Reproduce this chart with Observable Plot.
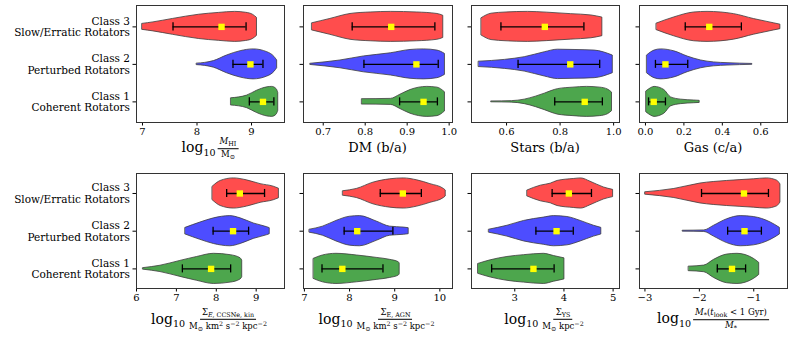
<!DOCTYPE html>
<html><head><meta charset="utf-8">
<script src="https://cdn.jsdelivr.net/npm/d3@7"></script>
<script src="https://cdn.jsdelivr.net/npm/@observablehq/plot@0.6"></script>
<style>
body{margin:0;background:#fff;}
#chart{position:relative;width:793px;height:339px;font-family:"DejaVu Serif","Liberation Serif",serif;color:#000;overflow:hidden;background:#fff}
#chart svg, #chart svg text{font-family:"DejaVu Serif","Liberation Serif",serif !important;}
.xl{position:absolute;transform:translate(-50%,-50%);white-space:nowrap;font-size:13px;display:flex;align-items:center;line-height:1}
.xl .lg{font-size:14px}
.xl sub{font-size:0.68em;vertical-align:-0.35em}
.frac{display:inline-flex;flex-direction:column;align-items:center;font-size:8.5px;margin-left:2px}
.frac sub{font-size:0.75em;vertical-align:-0.3em}
.frac sup{font-size:0.75em;vertical-align:0.45em}
.frac .num{border-bottom:0.8px solid #000;padding:0 2px 1px}
.frac .den{padding:1px 2px 0}
</style></head><body><div id="chart"></div>
<script>
// ---- data ----
const classes = [1, 2, 3];
const classLabels = ["Class 1\nCoherent Rotators", "Class 2\nPerturbed Rotators", "Class 3\nSlow/Erratic Rotators"];
const classColors = ["#4da64d", "#4d4dff", "#ff4d4d"];

// violin outlines: [class, value, relative half-width]
const shapeHI = [
 [3,7.00,0.20],[3,7.20,0.30],[3,7.56,0.53],[3,8.04,0.81],[3,8.40,0.93],[3,8.70,1.00],[3,8.90,0.94],[3,9.03,0.80],[3,9.10,0.60],
 [2,8.00,0.05],[2,8.15,0.10],[2,8.31,0.22],[2,8.55,0.59],[2,8.80,0.88],[2,9.04,1.00],[2,9.29,0.81],[2,9.42,0.50],[2,9.47,0.26],
 [1,8.63,0.24],[1,8.92,0.42],[1,9.10,0.74],[1,9.29,0.97],[1,9.38,1.00],[1,9.46,0.85],[1,9.49,0.60]
];
const shapeDM = [
 [3,0.674,0.24],[3,0.717,0.53],[3,0.765,0.86],[3,0.813,0.96],[3,0.861,1.00],[3,0.924,0.96],[3,0.972,0.86],[3,0.986,0.74],
 [2,0.670,0.04],[2,0.741,0.26],[2,0.797,0.53],[2,0.861,0.74],[2,0.908,0.96],[2,0.940,1.00],[2,0.972,0.92],[2,0.990,0.70],
 [1,0.793,0.18],[1,0.861,0.20],[1,0.884,0.48],[1,0.908,0.79],[1,0.948,1.00],[1,0.972,0.95],[1,0.990,0.64]
];
const shapeStars = [
 [3,0.507,0.58],[3,0.544,0.88],[3,0.600,0.96],[3,0.680,1.00],[3,0.750,0.95],[3,0.840,0.85],[3,0.917,0.76],[3,0.958,0.62],
 [2,0.497,0.18],[2,0.594,0.30],[2,0.668,0.48],[2,0.743,0.81],[2,0.792,0.98],[2,0.854,0.96],[2,0.929,0.92],[2,0.997,0.59],
 [1,0.544,0.03],[1,0.620,0.05],[1,0.668,0.15],[1,0.710,0.35],[1,0.743,0.55],[1,0.768,0.72],[1,0.792,0.85],[1,0.850,0.95],[1,0.900,1.00],[1,0.950,0.95],[1,0.979,0.82],[1,0.994,0.62]
];
const shapeGas = [
 [3,0.059,0.22],[3,0.150,0.63],[3,0.254,0.96],[3,0.323,1.00],[3,0.461,0.85],[3,0.565,0.52],[3,0.668,0.24],[3,0.702,0.15],
 [2,0.009,0.60],[2,0.047,0.92],[2,0.081,1.00],[2,0.150,0.87],[2,0.220,0.52],[2,0.289,0.26],[2,0.357,0.13],[2,0.427,0.08],[2,0.556,0.03],
 [1,0.005,0.70],[1,0.030,0.92],[1,0.047,1.00],[1,0.098,0.79],[1,0.133,0.30],[1,0.185,0.15],[1,0.254,0.09],[1,0.282,0.07]
];
const shapeCCSN = [
 [3,7.91,0.45],[3,8.11,0.83],[3,8.44,1.00],[3,8.77,0.87],[3,9.11,0.62],[3,9.44,0.45],[3,9.57,0.32],
 [2,7.23,0.22],[2,7.60,0.57],[2,7.94,0.85],[2,8.35,1.00],[2,8.61,0.85],[2,8.94,0.51],[2,9.28,0.26],[2,9.34,0.20],
 [1,6.17,0.05],[1,6.60,0.21],[1,7.10,0.53],[1,7.52,0.79],[1,7.94,1.00],[1,8.36,0.91],[1,8.61,0.70],[1,8.65,0.55]
];
const shapeAGN = [
 [3,7.86,0.15],[3,8.16,0.30],[3,8.53,0.72],[3,8.90,0.94],[3,9.20,1.00],[3,9.50,0.87],[3,9.79,0.62],[3,10.09,0.30],[3,10.13,0.20],
 [2,7.12,0.10],[2,7.41,0.30],[2,7.71,0.68],[2,8.01,0.96],[2,8.23,1.00],[2,8.60,0.64],[2,8.90,0.30],[2,9.20,0.24],[2,9.31,0.20],
 [1,7.21,0.67],[1,7.41,0.89],[1,7.71,1.00],[1,8.16,0.89],[1,8.60,0.73],[1,8.90,0.60],[1,9.09,0.44],[1,9.11,0.35]
];
const shapeYS = [
 [3,3.26,0.20],[3,3.53,0.52],[3,3.73,0.65],[3,3.87,0.83],[3,4.20,0.96],[3,4.35,1.00],[3,4.54,0.78],[3,4.81,0.40],[3,5.00,0.24],
 [2,2.48,0.10],[2,2.85,0.36],[2,3.19,0.68],[2,3.59,0.90],[2,3.80,1.00],[2,4.07,0.94],[2,4.34,0.68],[2,4.61,0.36],[2,4.76,0.22],
 [1,2.26,0.33],[1,2.51,0.57],[1,2.85,0.79],[1,3.19,0.91],[1,3.59,1.00],[1,3.80,0.85],[1,4.01,0.70]
];
const shapeLook = [
 [3,-2.99,0.08],[3,-2.46,0.30],[3,-1.98,0.66],[3,-1.49,0.83],[3,-1.00,0.94],[3,-0.76,1.00],[3,-0.57,0.85],[3,-0.51,0.60],
 [2,-2.30,0.03],[2,-1.91,0.05],[2,-1.73,0.36],[2,-1.49,0.79],[2,-1.24,1.00],[2,-1.00,0.94],[2,-0.69,0.58],[2,-0.52,0.22],
 [1,-2.19,0.15],[1,-1.91,0.22],[1,-1.73,0.60],[1,-1.49,0.95],[1,-1.30,1.00],[1,-1.00,0.67],[1,-0.90,0.40]
];

// error bars and medians: [class, lower, median, upper]
const statsHI = [[3,7.56,8.45,8.90],[2,8.66,8.98,9.21],[1,8.96,9.21,9.41]];
const statsDM = [[3,0.769,0.862,0.966],[2,0.797,0.922,0.974],[1,0.882,0.939,0.972]];
const statsStars = [[3,0.579,0.743,0.889],[2,0.643,0.838,0.948],[1,0.780,0.892,0.958]];
const statsGas = [[3,0.207,0.332,0.499],[2,0.052,0.104,0.220],[1,0.016,0.043,0.104]];
const statsCCSN = [[3,8.26,8.59,9.21],[2,7.92,8.42,8.81],[1,7.15,7.87,8.36]];
const statsAGN = [[3,8.68,9.18,9.59],[2,7.88,8.17,8.96],[1,7.39,7.84,8.74]];
const statsYS = [[3,3.76,4.10,4.56],[2,3.43,3.85,4.19],[1,2.53,3.38,3.80]];
const statsLook = [[3,-1.96,-1.18,-0.73],[2,-1.48,-1.17,-0.86],[1,-1.67,-1.40,-1.15]];

// tick values
const ticksHI = [7, 8, 9];
const ticksDM = [0.7, 0.8, 0.9, 1.0];
const ticksStars = [0.6, 0.8, 1.0];
const ticksGas = [0.0, 0.2, 0.4, 0.6];
const ticksCCSN = [6, 7, 8, 9];
const ticksAGN = [7, 8, 9, 10];
const ticksYS = [3, 4, 5];
const ticksLook = [-3, -2, -1];

// axis labels
const fr = (n, d) => `<span class="frac"><span class="num">${n}</span><span class="den">${d}</span></span>`;
const lg = `<span class="lg">log<sub>10</sub></span>`;
const unitE = `M<sub>⊙</sub> km<sup>2</sup> s<sup>−2</sup> kpc<sup>−2</sup>`;
const labels = [
  lg + fr(`<i>M</i><sub>HI</sub>`, `M<sub>⊙</sub>`),
  `DM (b/a)`,
  `Stars (b/a)`,
  `Gas (c/a)`,
  lg + fr(`Σ<sub><i>E</i>, CCSNe, kin</sub>`, unitE),
  lg + fr(`Σ<sub>E, AGN</sub>`, unitE),
  lg + fr(`Σ<sub>YS</sub>`, `M<sub>⊙</sub> kpc<sup>−2</sup>`),
  lg + fr(`<i>M</i><sub>*</sub>(<i>t</i><sub>look</sub> &lt; 1 Gyr)`, `<i>M</i><sub>*</sub>`)
];

// ---- layout ----
const f1 = d3.format(".1f"), f0 = d3.format("d");
const panels = [
  {shape: shapeHI, stats: statsHI, domain: [6.89, 9.605], ticks: ticksHI, fmt: f0},
  {shape: shapeDM, stats: statsDM, domain: [0.653, 1.008], ticks: ticksDM, fmt: f1},
  {shape: shapeStars, stats: statsStars, domain: [0.469, 1.022], ticks: ticksStars, fmt: f1},
  {shape: shapeGas, stats: statsGas, domain: [-0.031, 0.739], ticks: ticksGas, fmt: f1},
  {shape: shapeCCSN, stats: statsCCSN, domain: [6.0, 9.71], ticks: ticksCCSN, fmt: f0},
  {shape: shapeAGN, stats: statsAGN, domain: [6.98, 10.28], ticks: ticksAGN, fmt: f0},
  {shape: shapeYS, stats: statsYS, domain: [2.12, 5.13], ticks: ticksYS, fmt: f0},
  {shape: shapeLook, stats: statsLook, domain: [-3.1, -0.38], ticks: ticksLook, fmt: f0}
];
const cols = [[136, 284], [303, 452], [471, 619], [639, 787]];
const rows = [{y: [5, 122], dom: [0.45, 3.57], ly: 148}, {y: [173, 288], dom: [0.48, 3.53], ly: 319}];
const W = 0.4, CAP = 0.107;

const chart = document.getElementById("chart");
panels.forEach((p, i) => {
  const col = i % 4, row = Math.floor(i / 4);
  const [x0, x1] = cols[col];
  const r = rows[row];
  const [y0, y1] = r.y;
  const mL = col === 0 ? x0 : 8, mR = 4, mT = 4, mB = 24;
  const marks = [];
  classes.forEach(c => {
    marks.push(Plot.areaY(p.shape.filter(d => d[0] === c), {
      x: d => d[1], y1: d => d[0] - W * d[2], y2: d => d[0] + W * d[2],
      fill: classColors[c - 1], stroke: "#3c3c3c", strokeWidth: 0.8, curve: "monotone-x"
    }));
  });
  marks.push(
    Plot.ruleY(p.stats, {y: d => d[0], x1: d => d[1], x2: d => d[3], stroke: "#000", strokeWidth: 1.3}),
    Plot.ruleX(p.stats, {x: d => d[1], y1: d => d[0] - CAP, y2: d => d[0] + CAP, stroke: "#000", strokeWidth: 1.3}),
    Plot.ruleX(p.stats, {x: d => d[3], y1: d => d[0] - CAP, y2: d => d[0] + CAP, stroke: "#000", strokeWidth: 1.3}),
    Plot.dot(p.stats, {x: d => d[2], y: d => d[0], symbol: "square", r: 3.6, fill: "#ffff00", stroke: "none"}),
    Plot.axisX(p.ticks, {anchor: "bottom", tickSize: 3.5, tickPadding: 2, fontSize: 10, tickFormat: p.fmt, label: null}),
    col === 0
      ? Plot.axisY(classes, {anchor: "left", tickSize: 3.5, tickPadding: 3, fontSize: 10.5, lineHeight: 1.1, tickFormat: c => classLabels[c - 1], label: null})
      : Plot.axisY(classes, {anchor: "left", tickSize: 3.5, tickFormat: () => "", label: null}),
    Plot.frame({stroke: "#333", strokeWidth: 1})
  );
  const svg = Plot.plot({
    width: mL + (x1 - x0) + mR, height: mT + (y1 - y0) + mB,
    marginLeft: mL, marginRight: mR, marginTop: mT, marginBottom: mB,
    style: {fontFamily: '"DejaVu Serif", serif', fontSize: "10px", color: "#000", background: "transparent", overflow: "visible"},
    x: {domain: p.domain},
    y: {domain: r.dom},
    marks
  });
  svg.style.position = "absolute";
  svg.style.left = (x0 - mL) + "px";
  svg.style.top = (y0 - mT) + "px";
  chart.appendChild(svg);

  const lab = document.createElement("div");
  lab.className = "xl";
  lab.innerHTML = labels[i];
  lab.style.left = ((x0 + x1) / 2) + "px";
  lab.style.top = (r.ly + (row === 0 && i !== 0 ? -1 : 1)) + "px";
  chart.appendChild(lab);
});
</script></body></html>
